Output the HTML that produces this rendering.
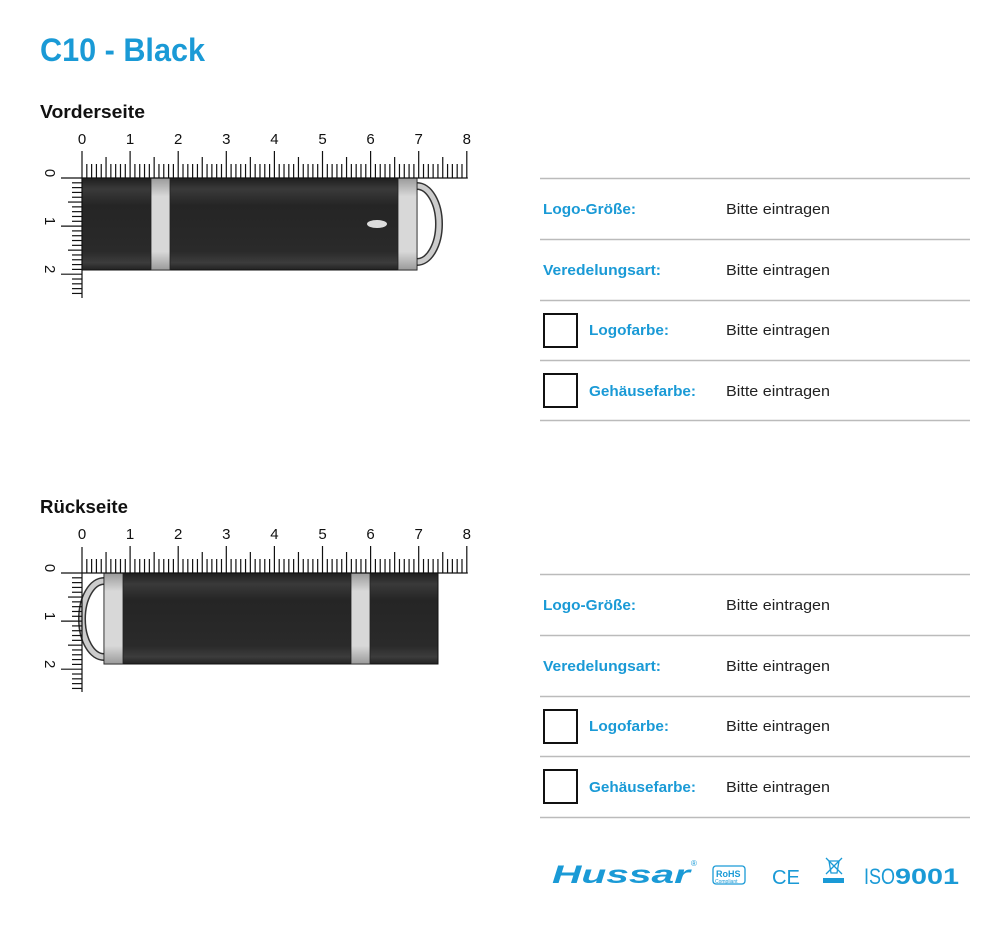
<!DOCTYPE html>
<html><head><meta charset="utf-8"><style>
html,body{margin:0;padding:0;background:#fff;width:1000px;height:925px;overflow:hidden}
svg{display:block}
text{font-family:"Liberation Sans",sans-serif}
</style></head><body>
<svg id="s" width="1000" height="925" viewBox="0 0 1000 925" xmlns="http://www.w3.org/2000/svg">
<defs>
<linearGradient id="body" x1="0" y1="0" x2="0" y2="1">
<stop offset="0" stop-color="#1e1e1e"/><stop offset="0.12" stop-color="#3a3a3a"/><stop offset="0.3" stop-color="#252525"/><stop offset="0.8" stop-color="#2a2a2a"/><stop offset="0.92" stop-color="#3c3c3c"/><stop offset="1" stop-color="#222"/>
</linearGradient>
<linearGradient id="metal" x1="0" y1="0" x2="0" y2="1">
<stop offset="0" stop-color="#9a9a9a"/><stop offset="0.2" stop-color="#d8d8d8"/><stop offset="0.8" stop-color="#d8d8d8"/><stop offset="1" stop-color="#9a9a9a"/>
</linearGradient>
</defs>
<text x="40" y="61" font-size="32" font-weight="bold" fill="#1a9ad6" textLength="165" lengthAdjust="spacingAndGlyphs">C10 - Black</text>
<text x="40" y="118" font-size="18" font-weight="bold" fill="#111" textLength="105" lengthAdjust="spacingAndGlyphs">Vorderseite</text>
<text x="40" y="513" font-size="18" font-weight="bold" fill="#111" textLength="88" lengthAdjust="spacingAndGlyphs">Rückseite</text>

<!-- front USB -->
<path d="M417,186 A22,38 0 0 1 417,262" fill="none" stroke="#333" stroke-width="8"/>
<path d="M417,186 A22,38 0 0 1 417,262" fill="none" stroke="#ccc" stroke-width="5"/>
<rect x="82" y="178" width="335" height="92" fill="url(#body)" stroke="#111"/>
<rect x="151" y="178" width="19" height="92" fill="url(#metal)" stroke="#222" stroke-width="0.8"/>
<rect x="398" y="178" width="19" height="92" fill="url(#metal)" stroke="#222" stroke-width="0.8"/>
<ellipse cx="377" cy="224" rx="10" ry="4" fill="#ddd"/>

<!-- back USB -->
<path d="M104,581 A22,38 0 0 0 104,657" fill="none" stroke="#333" stroke-width="8"/>
<path d="M104,581 A22,38 0 0 0 104,657" fill="none" stroke="#ccc" stroke-width="5"/>
<rect x="104" y="573" width="334" height="91" fill="url(#body)" stroke="#111"/>
<rect x="104" y="573" width="19" height="91" fill="url(#metal)" stroke="#222" stroke-width="0.8"/>
<rect x="351" y="573" width="19" height="91" fill="url(#metal)" stroke="#222" stroke-width="0.8"/>

<g id="rulers" stroke="#111" stroke-width="1.2"></g>
<g id="nums" font-size="15" fill="#111"></g>

<!-- tables -->
<g stroke="#bbb" stroke-width="1.5">
<line x1="540" y1="178.5" x2="970" y2="178.5"/><line x1="540" y1="239.5" x2="970" y2="239.5"/><line x1="540" y1="300.5" x2="970" y2="300.5"/><line x1="540" y1="360.5" x2="970" y2="360.5"/><line x1="540" y1="420.5" x2="970" y2="420.5"/>
<line x1="540" y1="574.5" x2="970" y2="574.5"/><line x1="540" y1="635.5" x2="970" y2="635.5"/><line x1="540" y1="696.5" x2="970" y2="696.5"/><line x1="540" y1="756.5" x2="970" y2="756.5"/><line x1="540" y1="817.5" x2="970" y2="817.5"/>
</g>
<g fill="none" stroke="#111" stroke-width="2">
<rect x="544" y="314" width="33" height="33"/><rect x="544" y="374" width="33" height="33"/>
<rect x="544" y="710" width="33" height="33"/><rect x="544" y="770" width="33" height="33"/>
</g>
<g font-size="15" font-weight="bold" fill="#1a9ad6">
<text x="543" y="214" textLength="93" lengthAdjust="spacingAndGlyphs">Logo-Größe:</text>
<text x="543" y="275" textLength="118" lengthAdjust="spacingAndGlyphs">Veredelungsart:</text>
<text x="589" y="335" textLength="80" lengthAdjust="spacingAndGlyphs">Logofarbe:</text>
<text x="589" y="396" textLength="107" lengthAdjust="spacingAndGlyphs">Gehäusefarbe:</text>
<text x="543" y="610" textLength="93" lengthAdjust="spacingAndGlyphs">Logo-Größe:</text>
<text x="543" y="671" textLength="118" lengthAdjust="spacingAndGlyphs">Veredelungsart:</text>
<text x="589" y="731" textLength="80" lengthAdjust="spacingAndGlyphs">Logofarbe:</text>
<text x="589" y="792" textLength="107" lengthAdjust="spacingAndGlyphs">Gehäusefarbe:</text>
</g>
<g font-size="15" fill="#222">
<text x="726" y="214" textLength="104" lengthAdjust="spacingAndGlyphs">Bitte eintragen</text>
<text x="726" y="275" textLength="104" lengthAdjust="spacingAndGlyphs">Bitte eintragen</text>
<text x="726" y="335" textLength="104" lengthAdjust="spacingAndGlyphs">Bitte eintragen</text>
<text x="726" y="396" textLength="104" lengthAdjust="spacingAndGlyphs">Bitte eintragen</text>
<text x="726" y="610" textLength="104" lengthAdjust="spacingAndGlyphs">Bitte eintragen</text>
<text x="726" y="671" textLength="104" lengthAdjust="spacingAndGlyphs">Bitte eintragen</text>
<text x="726" y="731" textLength="104" lengthAdjust="spacingAndGlyphs">Bitte eintragen</text>
<text x="726" y="792" textLength="104" lengthAdjust="spacingAndGlyphs">Bitte eintragen</text>
</g>

<!-- logos -->
<text x="552" y="883" font-size="25" font-weight="bold" font-style="italic" fill="#1a9ad6" textLength="138" lengthAdjust="spacingAndGlyphs">Hussar</text>
<text x="691" y="866" font-size="8" fill="#1a9ad6">®</text>
<rect x="713" y="866" width="32" height="18" rx="3" fill="none" stroke="#1a9ad6" stroke-width="1.3"/>
<text x="716" y="877" font-size="9" font-weight="bold" fill="#1a9ad6">RoHS</text>
<text x="715" y="883" font-size="5" fill="#1a9ad6">Compliant</text>
<text x="772" y="884" font-size="20" fill="#1a9ad6" textLength="28" lengthAdjust="spacingAndGlyphs">CE</text>
<g stroke="#1a9ad6" stroke-width="1.3" fill="none">
<path d="M826,858 L842,874 M842,858 L826,874"/><path d="M829,861 h10 l-2,12 h-6 z"/>
</g>
<rect x="823" y="878" width="21" height="5" fill="#1a9ad6"/>
<text x="864" y="884" font-size="22" fill="#1a9ad6" textLength="31" lengthAdjust="spacingAndGlyphs">ISO</text>
<text x="895" y="884" font-size="22" font-weight="bold" fill="#1a9ad6" textLength="64" lengthAdjust="spacingAndGlyphs">9001</text>
</svg>
<script>
var NS="http://www.w3.org/2000/svg",g=document.getElementById("rulers"),n=document.getElementById("nums");
function L(x1,y1,x2,y2){var l=document.createElementNS(NS,"line");l.setAttribute("x1",x1);l.setAttribute("y1",y1);l.setAttribute("x2",x2);l.setAttribute("y2",y2);g.appendChild(l);}
function T(x,y,s,rot){var t=document.createElementNS(NS,"text");t.setAttribute("x",x);t.setAttribute("y",y);t.setAttribute("text-anchor","middle");if(rot)t.setAttribute("transform","rotate(90 "+x+" "+y+")");t.textContent=s;n.appendChild(t);}
var u=48.1,x0=82;
function ruler(by,vtop,vbot){
 L(x0,by,x0+8*u+1,by);
 for(var i=0;i<=80;i++){var x=x0+i*u/10;var h=i%10==0?27:(i%5==0?21:14);if(i==0)continue;L(x,by,x,by-h);}
 L(x0,vtop,x0,vbot);
 for(var j=1;j*u/10<=vbot-by;j++){var y=by+j*u/10;var w=j%10==0?21:(j%5==0?14:10);L(x0,y,x0-w,y);}
 L(x0-21,by,x0,by);
 for(var k=0;k<=8;k++)T(x0+k*u,by-34,""+k);
 for(var m=0;m<=2;m++)T(45,by+m*u-5,""+m,true);
}
ruler(178,151,298);
ruler(573,547,692);
</script>
</body></html>
